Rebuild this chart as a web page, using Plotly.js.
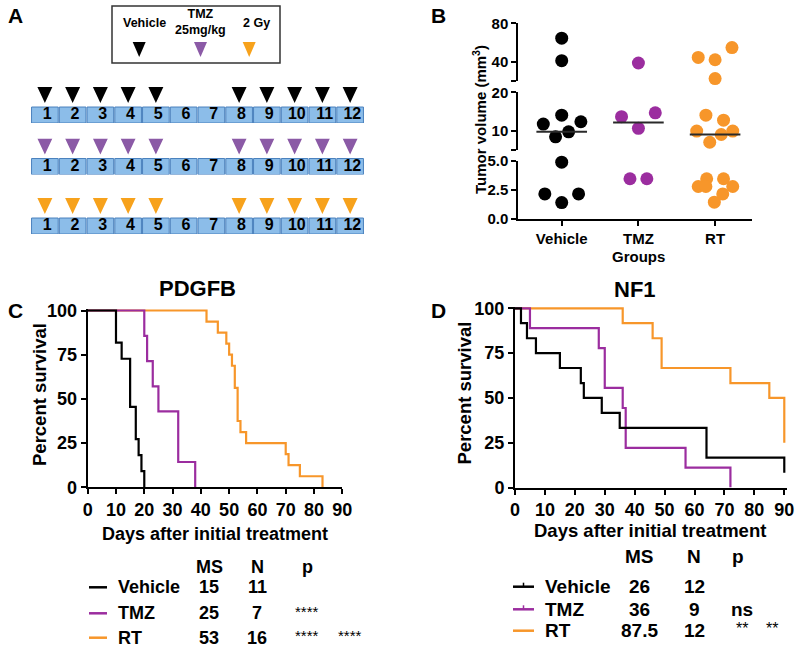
<!DOCTYPE html>
<html><head><meta charset="utf-8">
<script src="https://cdn.plot.ly/plotly-3.0.1.min.js"></script>
<style>html,body{margin:0;padding:0;background:#fff}</style>
</head><body><div id="chart" style="width:800px;height:650px"></div>
<script>
// ---------------- DATA ----------------
// Panel A: treatment schedule
const days = [1,2,3,4,5,6,7,8,9,10,11,12];
const doseDays = [1,2,3,4,5,8,9,10,11,12];
const doseLegendLabels = ['Vehicle', 'TMZ<br>25mg/kg', '2 Gy'];

// Panel B: tumour volume (mm3) per group, with horizontal scatter offsets (category units)
const groups = ['Vehicle', 'TMZ', 'RT'];
const volVehicle = [64.5, 41.1, 14.1, 11.8, 12.4, 9.8, 8.5, 4.9, 2.15, 2.15, 1.4];
const jitVehicle = [0, 0, 0, -0.24, 0.25, 0.09, -0.08, 0, -0.22, 0.22, 0];
const volTMZ = [38.7, 13.7, 14.7, 10.7, 3.46, 3.46];
const jitTMZ = [0, -0.22, 0.22, 0, -0.11, 0.11];
const volRT = [54.8, 44.5, 42.1, 22.5, 14.1, 12.8, 10.0, 10.0, 9.1, 7.1, 3.46, 3.46, 2.79, 2.79, 2.79, 2.15, 1.43];
const jitRT = [0.22, -0.22, 0, 0, -0.12, 0.11, -0.24, 0.23, 0.08, -0.07, -0.11, 0.11, -0.22, -0.12, 0.23, 0.10, -0.01];
const bTickVals0 = [0, 2.5, 5], bTickText0 = ['0.0', '2.5', '5.0'];
const bTickVals1 = [10, 20], bTickText1 = ['10', '20'], bBreak1 = [5];
const bTickVals2 = [40, 80], bTickText2 = ['40', '80'], bBreak2 = [20];

// Panel C: PDGFB Kaplan-Meier (days, percent survival)
const pdgfbVehicleDays = [0, 10, 12, 15, 17, 18, 19, 20];
const pdgfbVehicleSurv = [100, 81.8, 72.7, 45.5, 27.3, 18.2, 9.1, 0];
const pdgfbTMZDays = [0, 20, 21, 23, 25, 32, 38];
const pdgfbTMZSurv = [100, 85.7, 71.4, 57.1, 42.9, 14.3, 0];
const pdgfbRTDays = [0, 42, 46, 49, 50, 51, 52, 53, 54, 56, 70, 71, 75, 83];
const pdgfbRTSurv = [100, 93.75, 87.5, 81.25, 75, 68.75, 56.25, 37.5, 31.25, 25, 18.75, 12.5, 6.25, 0];
const pdgfbMS = ['15', '25', '53'];
const pdgfbN = ['11', '7', '16'];
const pdgfbP1 = ['', '****', '****'];
const pdgfbP2 = ['', '', '****'];

// Panel D: NF1 Kaplan-Meier
const nf1VehicleDays = [0, 2, 4, 7, 15, 22, 23, 29, 35, 64, 90];
const nf1VehicleSurv = [100, 91.7, 83.3, 75, 66.7, 58.3, 50, 41.7, 33.3, 16.7, 8.3];
const nf1TMZDays = [0, 5, 28, 30, 36, 37, 57, 72];
const nf1TMZSurv = [100, 88.9, 77.8, 55.6, 44.4, 22.2, 11.1, 0];
const nf1RTDays = [0, 36, 46, 49, 72, 85, 90];
const nf1RTSurv = [100, 91.7, 83.3, 66.7, 58.3, 50, 25];
const nf1MS = ['26', '36', '87.5'];
const nf1N = ['12', '9', '12'];
const nf1P1 = ['', 'ns', '**'];
const nf1P2 = ['', '', '**'];

const kmTicksX = [0,10,20,30,40,50,60,70,80,90];
const kmTicksY = [0,25,50,75,100];

// ---------------- STYLE / LAYOUT ----------------
const FONT = 'Arial, "Liberation Sans", sans-serif';
const groupColors = ['#000000', '#9b2d9f', '#f7962a'];
const triColors = ['#000000', '#8b5aa6', '#f7a21c'];
const W = 800, H = 650;
const px = v => v / W;
const py = v => 1 - v / H;

const traces = [];

// Panel A rows
const rowAxes = ['y5', 'y6', 'y7'];
const BOX_H = 0.444, TRI_B = 0.556, TRI_T = 1.0, TRI_HW = 0.27;
rowAxes.forEach((ya, r) => {
  traces.push({type:'bar', x: days, y: days.map(() => BOX_H), base: 0, width: 0.96,
    xaxis:'x5', yaxis: ya, marker:{color:'#8cbde9', line:{color:'#4a80bd', width:1}}, hoverinfo:'skip'});
  traces.push({type:'scatter', mode:'text', x: days.map(d => d + 0.08), y: days.map(() => BOX_H/2),
    text: days.map(String), textfont:{family:FONT, size:16, color:'#000', weight:'bold'},
    xaxis:'x5', yaxis: ya, cliponaxis:false, hoverinfo:'skip'});
  const tx = [], ty = [];
  doseDays.forEach(d => { tx.push(d - TRI_HW, d + TRI_HW, d, d - TRI_HW, null); ty.push(TRI_T, TRI_T, TRI_B, TRI_T, null); });
  traces.push({type:'scatter', mode:'lines', x: tx, y: ty, fill:'toself', fillcolor: triColors[r],
    line:{width:0, color: triColors[r]}, xaxis:'x5', yaxis: ya, hoverinfo:'skip'});
});

// Panel B
const segAxes = ['y2', 'y3', 'y4'];
function segOf(v) { return v <= 5 ? 0 : (v <= 20 ? 1 : 2); }
function median(a) { const s = a.slice().sort((x,y) => x-y); const n = s.length; return n % 2 ? s[(n-1)/2] : (s[n/2-1] + s[n/2]) / 2; }
const bVals = [volVehicle, volTMZ, volRT], bJit = [jitVehicle, jitTMZ, jitRT];
const MED_HW = 0.33;
bVals.forEach((vals, g) => {
  for (let s = 0; s < 3; s++) {
    const xs = [], ys = [];
    vals.forEach((v, i) => { if (segOf(v) === s) { xs.push(g + bJit[g][i]); ys.push(v); } });
    if (xs.length) traces.push({type:'scatter', mode:'markers', x: xs, y: ys, xaxis:'x2', yaxis: segAxes[s],
      marker:{size:13, color: groupColors[g]}, cliponaxis:false});
  }
  const m = median(vals);
  traces.push({type:'scatter', mode:'lines', x:[g - MED_HW, g + MED_HW], y:[m, m], xaxis:'x2', yaxis: segAxes[segOf(m)],
    line:{color:'#2a2a2a', width:2}});
});

// Panels C and D (RT first so Vehicle is drawn on top)
function km(xs, ys, color, xa, ya) {
  return {type:'scatter', mode:'lines', x: xs, y: ys, line:{shape:'hv', color: color, width:2.2}, xaxis: xa, yaxis: ya};
}
traces.push(km(pdgfbRTDays, pdgfbRTSurv, groupColors[2], 'x', 'y'));
traces.push(km(pdgfbTMZDays, pdgfbTMZSurv, groupColors[1], 'x', 'y'));
traces.push(km(pdgfbVehicleDays, pdgfbVehicleSurv, groupColors[0], 'x', 'y'));
traces.push(km(nf1RTDays, nf1RTSurv, groupColors[2], 'x3', 'y8'));
traces.push(km(nf1TMZDays, nf1TMZSurv, groupColors[1], 'x3', 'y8'));
traces.push(km(nf1VehicleDays, nf1VehicleSurv, groupColors[0], 'x3', 'y8'));

// ---------------- AXES ----------------
const hidden = {visible:false, fixedrange:true};
function kmX(domain, range, anchor) {
  return {domain, range, anchor, tickvals: kmTicksX, ticks:'outside', ticklen:5, tickwidth:2, tickcolor:'#000',
    showline:true, linewidth:2, linecolor:'#000', showgrid:false, zeroline:false,
    tickfont:{family:FONT, size:18, color:'#000', weight:'bold'}};
}
function kmY(domain, range, anchor) {
  return {domain, range, anchor, tickvals: kmTicksY, ticks:'outside', ticklen:5, tickwidth:2, tickcolor:'#000',
    showline:true, linewidth:2, linecolor:'#000', showgrid:false, zeroline:false,
    tickfont:{family:FONT, size:18, color:'#000', weight:'bold'}};
}
function bY(domain, range, tv, tt, brk) {
  const ax = {domain, range, anchor:'x2', tickvals: tv, ticktext: tt, ticks:'outside', ticklen:5, tickwidth:2, tickcolor:'#000',
    showline:true, linewidth:2, linecolor:'#000', showgrid:false, zeroline:false,
    tickfont:{family:FONT, size:15, color:'#000', weight:'bold'}};
  if (brk) ax.minor = {tickmode:'array', tickvals: brk, ticks:'outside', ticklen:5, tickwidth:2, tickcolor:'#000', showgrid:false};
  return ax;
}

const annotations = [];
function ann(text, x, y, size, opts) {
  annotations.push(Object.assign({text, x: px(x), y: py(y), xref:'paper', yref:'paper', showarrow:false,
    xanchor:'center', yanchor:'middle', font:{family:FONT, size, color:'#000', weight:'bold'}}, opts || {}));
}
// panel letters and titles
ann('A', 15, 16, 21); ann('B', 439, 16, 21); ann('C', 15, 310, 21); ann('D', 439, 310, 21);
ann('PDGFB', 197, 288, 22); ann('NF1', 635, 289, 22);
// axis titles
ann('Tumor volume (mm<sup>3</sup>)', 479, 120, 15, {textangle:-90});
ann('Groups', 638, 256, 15);
ann('Days after initial treatment', 214.5, 534, 18);
ann('Percent survival', 40, 395, 18.5, {textangle:-90});
ann('Days after initial treatment', 650, 530, 18.5);
ann('Percent survival', 463.5, 393, 18.5, {textangle:-90});
// panel A legend text
ann(doseLegendLabels[0], 144.7, 23, 12.5);
ann(doseLegendLabels[1], 200.8, 22.5, 12.5);
ann(doseLegendLabels[2], 256.7, 23, 12.5);

const shapes = [];
// panel A legend box and triangles
shapes.push({type:'rect', xref:'paper', yref:'paper', x0:px(112), x1:px(280), y0:py(63), y1:py(6), line:{color:'#333', width:1.5}});
[139.2, 200.5, 249.2].forEach((cx, i) => {
  shapes.push({type:'path', xref:'paper', yref:'paper', fillcolor: triColors[i], line:{width:0},
    path:`M ${px(cx-6.5)} ${py(42)} L ${px(cx+6.5)} ${py(42)} L ${px(cx)} ${py(57)} Z`});
});

// KM legend tables
function kmTable(cfg) {
  ann('MS', cfg.msX, cfg.headY, cfg.size);
  ann('N', cfg.nX, cfg.headY, cfg.size);
  ann('p', cfg.pX, cfg.headY, cfg.size);
  groups.forEach((g, i) => {
    const y = cfg.rowY[i];
    shapes.push({type:'line', xref:'paper', yref:'paper', x0:px(cfg.lineX[0]), x1:px(cfg.lineX[1]), y0:py(y), y1:py(y),
      line:{color: groupColors[i], width:2.5}});
    if (cfg.censorTick && i < 2) {
      const cx = (cfg.lineX[0] + cfg.lineX[1]) / 2;
      shapes.push({type:'line', xref:'paper', yref:'paper', x0:px(cx), x1:px(cx), y0:py(y), y1:py(y-4),
        line:{color: groupColors[i], width:1.5}});
    }
    ann(g, cfg.labelX, y, cfg.size, {xanchor:'left'});
    ann(cfg.ms[i], cfg.msX, y, cfg.size);
    ann(cfg.n[i], cfg.nX, y, cfg.size);
    const star1 = cfg.p1[i].startsWith('*');
    if (cfg.p1[i]) ann(cfg.p1[i], cfg.p1X, y - (star1 ? 2 : 0), star1 ? cfg.size - 3 : cfg.size,
      star1 ? {font:{family:FONT, size:cfg.size-3, color:'#000'}} : {});
    if (cfg.p2[i]) ann(cfg.p2[i], cfg.p2X, y - 2, cfg.size - 3, {font:{family:FONT, size:cfg.size-3, color:'#000'}});
  });
}
kmTable({headY:567, rowY:[587.3, 613.3, 637.7], lineX:[89, 107], labelX:116, msX:209, nX:257, pX:307,
  p1X:307, p2X:350, ms: pdgfbMS, n: pdgfbN, p1: pdgfbP1, p2: pdgfbP2, size:18, censorTick:false});
kmTable({headY:556.7, rowY:[586.7, 609.3, 630.7], lineX:[513, 534], labelX:543, msX:639, nX:694.3, pX:738.3,
  p1X:741.7, p2X:772, ms: nf1MS, n: nf1N, p1: nf1P1, p2: nf1P2, size:19, censorTick:true});

const layout = {
  width: W, height: H, margin:{l:0, r:0, t:0, b:0}, showlegend:false,
  paper_bgcolor:'#fff', plot_bgcolor:'rgba(0,0,0,0)',
  font:{family:FONT, color:'#000'},
  // Panel C
  xaxis: kmX([px(87.7), px(342.3)], [0, 90], 'y'),
  yaxis: kmY([py(487.3), py(487.3 - 101*1.768)], [0, 101], 'x'),
  // Panel D
  xaxis3: kmX([px(515), px(515 + 90.8*2.992)], [0, 90.8], 'y8'),
  yaxis8: kmY([py(487.6), py(487.6 - 101*1.793)], [0, 101], 'x3'),
  // Panel B
  xaxis2: {domain:[px(518.3), px(752.3)], range:[-0.566, 2.485], anchor:'y2', tickvals:[0,1,2], ticktext: groups,
    ticks:'outside', ticklen:5, tickwidth:2, tickcolor:'#000', showline:true, linewidth:2, linecolor:'#000',
    showgrid:false, zeroline:false, tickfont:{family:FONT, size:15, color:'#000', weight:'bold'}},
  yaxis2: bY([py(218.7), py(161)], [0, 5], bTickVals0, bTickText0, null),
  yaxis3: bY([py(150.4), py(92.3)], [5, 20], bTickVals1, bTickText1, bBreak1),
  yaxis4: bY([py(81), py(23.3)], [20, 80], bTickVals2, bTickText2, bBreak2),
  // Panel A
  xaxis5: Object.assign({domain:[px(31), px(364)], range:[0.5, 12.5], anchor:'y5'}, hidden),
  yaxis5: Object.assign({domain:[py(123), py(87)], range:[0, 1], anchor:'x5'}, hidden),
  yaxis6: Object.assign({domain:[py(174.5), py(138.5)], range:[0, 1], anchor:'x5'}, hidden),
  yaxis7: Object.assign({domain:[py(234), py(198)], range:[0, 1], anchor:'x5'}, hidden),
  barmode:'overlay',
  annotations, shapes
};

Plotly.newPlot('chart', traces, layout, {displayModeBar:false, staticPlot:true});
</script>
</body></html>
